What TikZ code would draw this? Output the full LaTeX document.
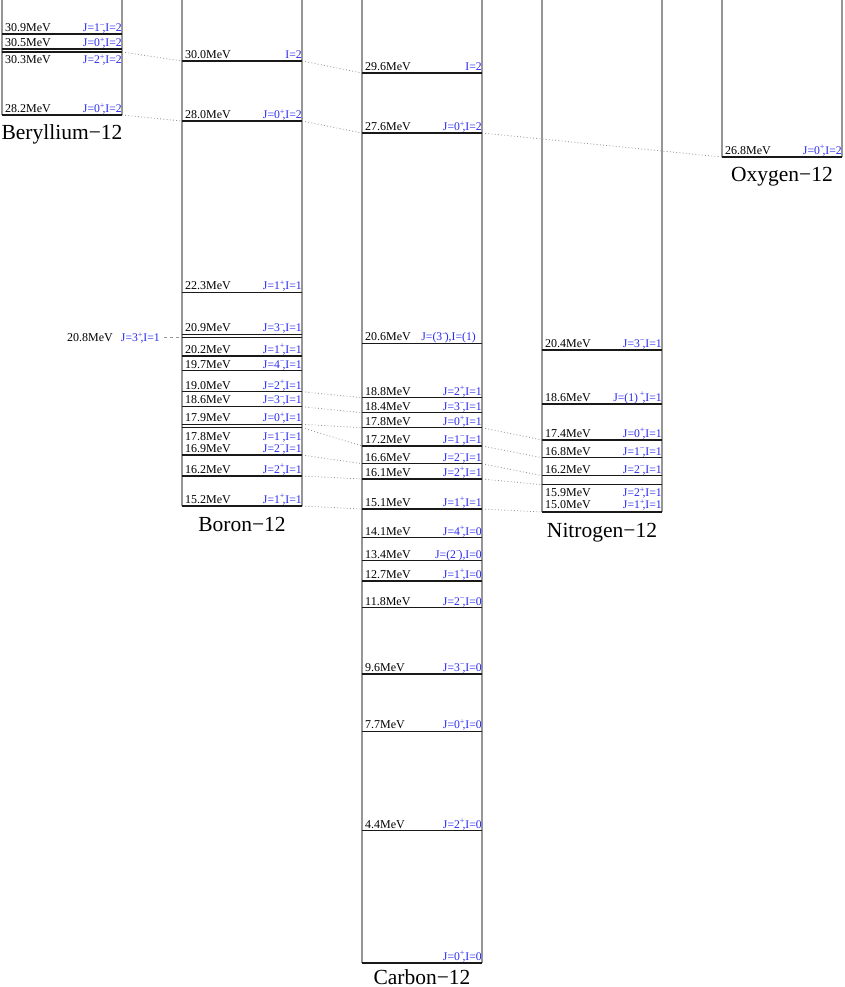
\documentclass[tikz,border=0pt]{standalone}
\usepackage{fontspec}
\setmainfont{Liberation Serif}
\definecolor{spinblue}{RGB}{40,40,240}
\definecolor{sideg}{RGB}{150,150,150}
\newcommand\sgp{\textsuperscript{+}\kern-0.22em}
\newcommand\sgm{\textsuperscript{−}\kern-0.22em}
\tikzset{
  levelline/.style={draw=black!90,line width=1.4pt},
  sideline/.style={draw=sideg,line width=1.1pt},
  conn/.style={draw=sideg,line width=0.8pt,dash pattern=on 0.9pt off 2.3pt},
  elab/.style={anchor=base west,inner sep=0pt,font=\fontsize{12}{13}\selectfont},
  slab/.style={anchor=base east,inner sep=0pt,text=spinblue,font=\fontsize{11.7}{12}\selectfont},
  title/.style={anchor=base,inner sep=0pt,font=\fontsize{21.5}{24}\selectfont}
}
% #1 x-left, #2 y, #3 name
\newcommand\lvl[3]{%
  \coordinate (#3-l) at (#1,#2);
  \coordinate (#3-r) at (#1+120,#2);
  \draw[levelline] (#3-l) -- (#3-r);}
% #1 x-left, #2 baseline, #3 name, #4 energy, #5 spin
\newcommand\lab[5]{%
  \node[elab] (#3-e) at (#1+3,#2) {#4};
  \node[slab] (#3-s) at (#1+120,#2) {#5};}
\newcommand\col[3]{% #1 x-left, #2 bottom, #3 name
  \coordinate (#3-tl) at (#1,0);
  \coordinate (#3-tr) at (#1+120,0);
  \coordinate (#3-bl) at (#1,#2);
  \coordinate (#3-br) at (#1+120,#2);
  \draw[sideline] (#3-tl) -- (#3-bl);
  \draw[sideline] (#3-tr) -- (#3-br);}
\begin{document}
\begin{tikzpicture}[x=1pt,y=-1pt]
\useasboundingbox (0,0) rectangle (845,987);
% columns
\col{2}{115}{Be}
\col{182}{506}{Bo}
\col{362}{963}{Ca}
\col{542}{512}{Ni}
\col{722}{157}{Ox}
% ---------- Beryllium
\lvl{2}{34}{be309}\lab{2}{31.5}{be309}{30.9MeV}{J=1\sgm,I=2}
\lvl{2}{49}{be305}\lab{2}{46.5}{be305}{30.5MeV}{J=0\sgp,I=2}
\lvl{2}{52}{be303}\lab{2}{64}{be303}{30.3MeV}{J=2\sgp,I=2}
\lvl{2}{115}{be282}\lab{2}{112.5}{be282}{28.2MeV}{J=0\sgp,I=2}
\node[title] (beT) at (62,140) {Beryllium−12};
% ---------- Boron
\lvl{182}{61}{b300}\lab{182}{58.5}{b300}{30.0MeV}{I=2}
\lvl{182}{121}{b280}\lab{182}{118.5}{b280}{28.0MeV}{J=0\sgp,I=2}
\lvl{182}{292.3}{b223}\lab{182}{289.8}{b223}{22.3MeV}{J=1\sgp,I=1}
\lvl{182}{334.3}{b209}\lab{182}{331.6}{b209}{20.9MeV}{J=3\sgm,I=1}
\lvl{182}{337.6}{b208}
\lvl{182}{356}{b202}\lab{182}{353.3}{b202}{20.2MeV}{J=1\sgp,I=1}
\lvl{182}{370.7}{b197}\lab{182}{368}{b197}{19.7MeV}{J=4\sgm,I=1}
\lvl{182}{391.7}{b190}\lab{182}{389}{b190}{19.0MeV}{J=2\sgp,I=1}
\lvl{182}{406.7}{b186}\lab{182}{403.8}{b186}{18.6MeV}{J=3\sgm,I=1}
\lvl{182}{424.3}{b179}\lab{182}{421.7}{b179}{17.9MeV}{J=0\sgp,I=1}
\lvl{182}{427.6}{b178}\lab{182}{440}{b178}{17.8MeV}{J=1\sgm,I=1}
\lvl{182}{455}{b169}\lab{182}{452.3}{b169}{16.9MeV}{J=2\sgm,I=1}
\lvl{182}{476}{b162}\lab{182}{473.3}{b162}{16.2MeV}{J=2\sgp,I=1}
\lvl{182}{506}{b152}\lab{182}{503.3}{b152}{15.2MeV}{J=1\sgp,I=1}
\node[title] (boT) at (242,531) {Boron−12};
% outside level 20.8
\coordinate (b208-x) at (164,337.6);
\draw[sideg,line width=0.9pt,dash pattern=on 3pt off 3pt] (b208-x) -- (b208-l);
\node[anchor=base east,inner sep=0pt,text=spinblue,font=\fontsize{11.7}{12}\selectfont] (b208-s) at (160,341.5) {J=3\sgp,I=1};
\node[anchor=base west,inner sep=0pt,font=\fontsize{12}{13}\selectfont] (b208-e) at (67,341.5) {20.8MeV};
% ---------- Carbon
\lvl{362}{73}{c296}\lab{362}{70.5}{c296}{29.6MeV}{I=2}
\lvl{362}{133}{c276}\lab{362}{130.5}{c276}{27.6MeV}{J=0\sgp,I=2}
\lvl{362}{343.3}{c206}
\node[elab] (c206-e) at (365,340.7) {20.6MeV};
\node[slab,xshift=-6pt] (c206-s) at (482,340.7) {J=(3\sgm),I=(1)};
\lvl{362}{397.7}{c188}\lab{362}{395.2}{c188}{18.8MeV}{J=2\sgp,I=1}
\lvl{362}{412.7}{c184}\lab{362}{410}{c184}{18.4MeV}{J=3\sgm,I=1}
\lvl{362}{427.7}{c178}\lab{362}{425}{c178}{17.8MeV}{J=0\sgp,I=1}
\lvl{362}{446}{c172}\lab{362}{443.3}{c172}{17.2MeV}{J=1\sgm,I=1}
\lvl{362}{463.7}{c166}\lab{362}{461.2}{c166}{16.6MeV}{J=2\sgm,I=1}
\lvl{362}{479}{c161}\lab{362}{476.3}{c161}{16.1MeV}{J=2\sgp,I=1}
\lvl{362}{509}{c151}\lab{362}{506.3}{c151}{15.1MeV}{J=1\sgp,I=1}
\lvl{362}{537.7}{c141}\lab{362}{535}{c141}{14.1MeV}{J=4\sgp,I=0}
\lvl{362}{560.7}{c134}\lab{362}{558}{c134}{13.4MeV}{J=(2\sgm),I=0}
\lvl{362}{581}{c127}\lab{362}{578.3}{c127}{12.7MeV}{J=1\sgp,I=0}
\lvl{362}{607.7}{c118}\lab{362}{605}{c118}{11.8MeV}{J=2\sgm,I=0}
\lvl{362}{674}{c96}\lab{362}{671.3}{c96}{9.6MeV}{J=3\sgm,I=0}
\lvl{362}{731.5}{c77}\lab{362}{728.8}{c77}{7.7MeV}{J=0\sgp,I=0}
\lvl{362}{830.7}{c44}\lab{362}{828}{c44}{4.4MeV}{J=2\sgp,I=0}
\lvl{362}{963}{c00}
\node[slab] (c00-s) at (482,960.3) {J=0\sgp,I=0};
\node[title] (caT) at (422,984) {Carbon−12};
% ---------- Nitrogen
\lvl{542}{350}{n204}\lab{542}{347.3}{n204}{20.4MeV}{J=3\sgm,I=1}
\lvl{542}{404}{n186}\lab{542}{401.3}{n186}{18.6MeV}{J=(1)\,\sgp,I=1}
\lvl{542}{440}{n174}\lab{542}{437.3}{n174}{17.4MeV}{J=0\sgp,I=1}
\lvl{542}{457.7}{n168}\lab{542}{455}{n168}{16.8MeV}{J=1\sgm,I=1}
\lvl{542}{475.7}{n162}\lab{542}{473}{n162}{16.2MeV}{J=2\sgm,I=1}
\lvl{542}{484.7}{n159}\lab{542}{496.8}{n159}{15.9MeV}{J=2\sgp,I=1}
\lvl{542}{512}{n150}\lab{542}{508.6}{n150}{15.0MeV}{J=1\sgp,I=1}
\node[title] (niT) at (602,537) {Nitrogen−12};
% ---------- Oxygen
\lvl{722}{157}{o268}\lab{722}{154.3}{o268}{26.8MeV}{J=0\sgp,I=2}
\node[title] (oxT) at (782,182) {Oxygen−12};
% ---------- connectors
\draw[conn] (be303-r) -- (b300-l);
\draw[conn] (be282-r) -- (b280-l);
\draw[conn] (b300-r) -- (c296-l);
\draw[conn] (b280-r) -- (c276-l);
\draw[conn] (c276-r) -- (o268-l);
\draw[conn] (b190-r) -- (c188-l);
\draw[conn] (b186-r) -- (c184-l);
\draw[conn] (b179-r) -- (c178-l);
\draw[conn] (b178-r) -- (c172-l);
\draw[conn] (b169-r) -- (c166-l);
\draw[conn] (b162-r) -- (c161-l);
\draw[conn] (b152-r) -- (c151-l);
\draw[conn] (c178-r) -- (n174-l);
\draw[conn] (c172-r) -- (n168-l);
\draw[conn] (c166-r) -- (n162-l);
\draw[conn] (c161-r) -- (n159-l);
\draw[conn] (c151-r) -- (n150-l);
\end{tikzpicture}
\end{document}
